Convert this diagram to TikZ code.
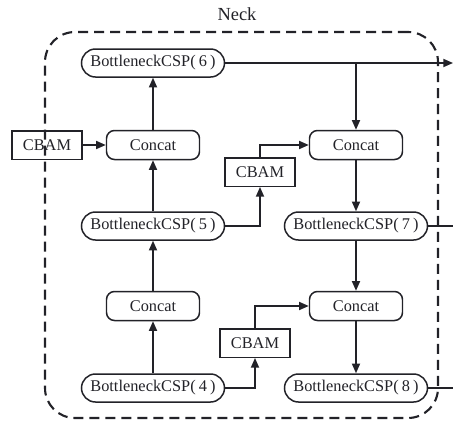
\documentclass[tikz,border=0pt]{standalone}
\usepackage{fontspec}
\setmainfont{Liberation Serif}
\usetikzlibrary{arrows.meta,positioning}
\definecolor{ink}{RGB}{34,34,40}
\newcommand{\bcsp}[1]{BottleneckCSP(\kern1.8pt#1\kern1.8pt)}
\tikzset{csp/.style={draw=ink,text=ink,line width=0.85pt,rounded corners=0.28cm,minimum width=2.86cm,minimum height=0.56cm,inner sep=1pt,font=\fontsize{9.3}{11}\selectfont},cat/.style={csp,rounded corners=0.16cm,minimum width=1.86cm,minimum height=0.58cm},att/.style={csp,sharp corners,minimum width=1.4cm,minimum height=0.57cm},flow/.style={-{Triangle[length=5.5pt,width=4.6pt]},line width=0.85pt,draw=ink},link/.style={line width=0.85pt,draw=ink},neckbox/.style={draw=ink,line width=1.2pt,dash pattern=on 5.7pt off 3.4pt,rounded corners=0.6cm,minimum width=7.86cm,minimum height=7.72cm}}

\begin{document}
\begin{tikzpicture}[on grid,node distance=1.63cm]
\useasboundingbox (-3.06,1.26) rectangle (6.0,-7.16);
% left column, bottom-up path
\node[csp] (b6) {\bcsp{6}};
\node[cat,below=1.64 of b6] (cat1) {Concat};
\node[csp,below=1.62 of cat1] (b5) {\bcsp{5}};
\node[cat,below=1.6 of b5] (cat2) {Concat};
\node[csp,below=1.64 of cat2] (b4) {\bcsp{4}};
\node[att,left=2.12 of cat1] (att1) {CBAM};
% right column, top-down path
\node[cat,right=4.06 of cat1] (cat3) {Concat};
\node[csp,right=4.06 of b5] (b7) {\bcsp{7}};
\node[cat,right=4.06 of cat2] (cat4) {Concat};
\node[csp,right=4.06 of b4] (b8) {\bcsp{8}};
\node[att,above right=1.08 and 2.14 of b5] (att2) {CBAM};
\node[att,above right=0.9 and 2.04 of b4] (att3) {CBAM};
% outputs leave to the right
\coordinate[right=6.0 of b6] (o6);
\coordinate[right=1.94 of b7] (o7);
\coordinate[right=1.94 of b8] (o8);
\node[neckbox] (neck) at (1.77,-3.24) {};
\node[above=0.34 of neck.north,anchor=center,xshift=-0.09cm,text=ink,font=\fontsize{10.5}{12}\selectfont] (title) {Neck};
\draw[flow] (b6)--(o6);
\draw[flow] (b6 -| cat3)--(cat3);
\draw[flow] (att1)--(cat1);
\draw[flow] (cat1)--(b6);
\draw[flow] (b5)--(cat1);
\draw[flow] (b5)-|(att2);
\draw[flow] (att2)|-(cat3);
\draw[flow] (cat3)--(b7);
\draw[link] (b7)--(o7);
\draw[flow] (b7)--(cat4);
\draw[flow] (cat2)--(b5);
\draw[flow] (b4)--(cat2);
\draw[flow] (b4)-|(att3);
\draw[flow] (att3)|-(cat4);
\draw[flow] (cat4)--(b8);
\draw[link] (b8)--(o8);
\end{tikzpicture}
\end{document}
